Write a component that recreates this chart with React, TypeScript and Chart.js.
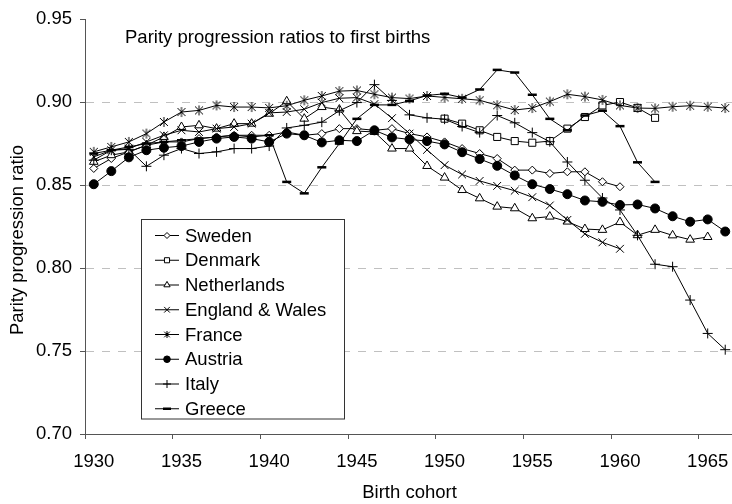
import React, { useEffect, useRef } from 'react';
import { Chart, registerables } from 'chart.js';
import { drawPoint } from 'chart.js/helpers';

Chart.register(...registerables);

const years = [
  '1930', '1931', '1932', '1933', '1934', '1935', '1936', '1937', '1938', '1939',
  '1940', '1941', '1942', '1943', '1944', '1945', '1946', '1947', '1948', '1949',
  '1950', '1951', '1952', '1953', '1954', '1955', '1956', '1957', '1958', '1959',
  '1960', '1961', '1962', '1963', '1964', '1965', '1966',
];

const seriesNames = ['Sweden', 'Denmark', 'Netherlands', 'England & Wales', 'France', 'Austria', 'Italy', 'Greece'];

const sweden = [
  0.860, 0.866, 0.870, 0.874, 0.876, 0.876, 0.878, 0.879, 0.880, 0.880, 0.880,
  0.882, 0.880, 0.881, 0.884, 0.884, 0.883, 0.884, 0.881, 0.879, 0.876,
  0.872, 0.869, 0.866, 0.859, 0.859, 0.857, 0.858, 0.858, 0.852, 0.849,
  null, null, null, null, null, null,
];

const denmark = [
  null, null, null, null, null, null, null, null, null, null,
  null, null, null, null, null, null, null, null, null, null,
  0.890, 0.887, 0.883, 0.879, 0.8765, 0.8755, 0.8765, 0.884, 0.891, 0.898,
  0.900, 0.8965, 0.8905, null, null, null, null,
];

const netherlands = [
  0.864, 0.868, 0.870, 0.874, 0.879, 0.885, 0.886, 0.884, 0.887, 0.887, 0.893,
  0.9005, 0.890, 0.897, 0.8955, 0.8825, 0.882, 0.872, 0.872, 0.8615, 0.8545,
  0.847, 0.842, 0.837, 0.836, 0.830, 0.831, 0.828, 0.8235, 0.823, 0.8277,
  0.8198, 0.823, 0.8197, 0.8171, 0.8187, null,
];

const englandWales = [
  0.867, 0.871, 0.872, 0.876, 0.880, 0.883, 0.882, 0.884, 0.885, 0.887, 0.8935,
  0.894, 0.8957, 0.8997, 0.9023, 0.9027, 0.8988, 0.8903, 0.881, 0.8712, 0.862,
  0.8564, 0.8525, 0.8495, 0.8466, 0.8427, 0.8377, 0.829, 0.8206, 0.8155, 0.8116,
  null, null, null, null, null, null,
];

const france = [
  0.870, 0.873, 0.876, 0.881, 0.888, 0.894, 0.895, 0.898, 0.897, 0.897, 0.8965,
  0.8978, 0.9011, 0.9037, 0.9066, 0.907, 0.9047, 0.9027, 0.9021, 0.9037, 0.9028,
  0.902, 0.9011, 0.8981, 0.8952, 0.8964, 0.9003, 0.9047, 0.9033, 0.9013, 0.898,
  0.8964, 0.8962, 0.8972, 0.8978, 0.8972, 0.8964,
];

const austria = [
  0.8505, 0.8584, 0.8667, 0.871, 0.8725, 0.8735, 0.876, 0.878, 0.879, 0.878, 0.876,
  0.881, 0.880, 0.8757, 0.877, 0.8765, 0.883, 0.8787, 0.8775, 0.8765, 0.8745,
  0.8698, 0.8657, 0.8616, 0.8558, 0.8505, 0.8476, 0.8445, 0.8407, 0.8399, 0.838,
  0.8383, 0.8359, 0.8312, 0.8279, 0.8293, 0.822,
];

const italy = [
  0.865, 0.871, 0.8715, 0.8613, 0.868, 0.872, 0.869, 0.870, 0.872, 0.872, 0.8735,
  0.8844, 0.886, 0.8879, 0.8948, 0.8997, 0.9105, 0.901, 0.8923, 0.8905, 0.8897,
  0.8853, 0.8816, 0.8919, 0.8875, 0.8816, 0.8761, 0.8639, 0.8529, 0.8422, 0.835,
  0.8197, 0.8023, 0.8008, 0.7807, 0.7606, 0.7508,
];

const greece = [
  0.869, 0.871, 0.873, 0.875, 0.876, 0.877, 0.878, 0.879, 0.880, 0.879, 0.880,
  0.8519, 0.845, 0.8607, 0.875, 0.8899, 0.8983, 0.8983, 0.9007, 0.904, 0.905,
  0.9027, 0.9076, 0.9194, 0.9178, 0.9044, 0.8899, 0.883, 0.8919, 0.8948, 0.8855,
  0.8637, 0.8519, null, null, null, null,
];

const yMin = 0.70;
const yMax = 0.95;
const yStep = 0.05;
const xLabelEvery = 5;

const chartTitle = 'Parity progression ratios to first births';
const xTitle = 'Birth cohort';
const yTitle = 'Parity progression ratio';

const FONT = '"Liberation Sans", Arial, Helvetica, sans-serif';
const FS = 18.5;
const AXIS = '#555555';

function makeStar(size: number): HTMLCanvasElement {
  const c = document.createElement('canvas');
  c.width = size;
  c.height = size;
  const g = c.getContext('2d')!;
  g.strokeStyle = '#000';
  g.lineWidth = 1;
  const m = size / 2;
  const d = size / 2 - 1;
  g.beginPath();
  g.moveTo(m - d * 0.8, m - d * 0.8);
  g.lineTo(m + d * 0.8, m + d * 0.8);
  g.moveTo(m + d * 0.8, m - d * 0.8);
  g.lineTo(m - d * 0.8, m + d * 0.8);
  g.moveTo(m, m - d);
  g.lineTo(m, m + d);
  g.stroke();
  return c;
}

export default function App() {
  const ref = useRef<HTMLCanvasElement>(null);

  useEffect(() => {
    const canvas = ref.current!;
    const star = makeStar(12);
    const starSmall = makeStar(9);
    const seriesData = [sweden, denmark, netherlands, englandWales, france, austria, italy, greece];
    const styles: any[] = [
      { ps: 'rectRot', r: 4, bg: '#fff', bw: 1, lps: 'rectRot', lr: 3 },
      { ps: 'rect', r: 5, bg: '#fff', bw: 1, lps: 'rect', lr: 3.6 },
      { ps: 'triangle', r: 5, bg: '#fff', bw: 1, lps: 'triangle', lr: 3.6 },
      { ps: 'crossRot', r: 5.5, bg: '#fff', bw: 1, lps: 'crossRot', lr: 4 },
      { ps: star, r: 5, bg: '#fff', bw: 1, lps: starSmall, lr: 4 },
      { ps: 'circle', r: 4.5, bg: '#000', bw: 1, lps: 'circle', lr: 3.3 },
      { ps: 'cross', r: 5, bg: '#fff', bw: 1, lps: 'cross', lr: 4 },
      { ps: 'line', r: 4.5, bg: '#000', bw: 2.5, lps: 'line', lr: 4 },
    ];

    const datasets = seriesNames.map((name, i) => ({
      label: name,
      data: seriesData[i],
      borderColor: '#000',
      borderWidth: 1,
      pointStyle: styles[i].ps,
      pointRadius: styles[i].r,
      pointBackgroundColor: styles[i].bg,
      pointBorderColor: '#000',
      pointBorderWidth: styles[i].bw,
      fill: false,
      tension: 0,
      spanGaps: false,
      order: 10 - i,
    }));

    const overlay = {
      id: 'overlay',
      afterDraw(chart: any) {
        const ctx: CanvasRenderingContext2D = chart.ctx;
        const area = chart.chartArea;
        ctx.save();
        ctx.fillStyle = '#000';
        // chart title
        ctx.font = `${FS}px ${FONT}`;
        ctx.textAlign = 'left';
        ctx.textBaseline = 'alphabetic';
        ctx.fillText(chartTitle, 125, 43);
        // x title
        ctx.textAlign = 'center';
        ctx.fillText(xTitle, (area.left + area.right) / 2, 498);
        // y title
        ctx.save();
        ctx.translate(17.5, 240);
        ctx.rotate(-Math.PI / 2);
        ctx.textBaseline = 'middle';
        ctx.textAlign = 'center';
        ctx.fillText(yTitle, 0, 0);
        ctx.restore();

        // legend box
        const bx = 141.5, by = 219.5, bw = 203, bh = 199.5;
        ctx.fillStyle = '#fff';
        ctx.fillRect(bx, by, bw, bh);
        ctx.strokeStyle = '#333';
        ctx.lineWidth = 1;
        ctx.strokeRect(bx, by, bw, bh);
        const rowH = 24.75;
        const y0 = 235.5;
        seriesNames.forEach((name, i) => {
          const y = y0 + i * rowH;
          ctx.strokeStyle = '#000';
          ctx.lineWidth = 1;
          ctx.beginPath();
          ctx.moveTo(155, y);
          ctx.lineTo(179, y);
          ctx.stroke();
          ctx.fillStyle = styles[i].bg;
          ctx.strokeStyle = '#000';
          ctx.lineWidth = styles[i].bw;
          drawPoint(ctx, { pointStyle: styles[i].lps, radius: styles[i].lr, borderWidth: styles[i].bw, rotation: 0 } as any, 167, y);
          ctx.fillStyle = '#000';
          ctx.font = `${FS}px ${FONT}`;
          ctx.textAlign = 'left';
          ctx.textBaseline = 'middle';
          ctx.fillText(name, 185, y + 1);
        });
        ctx.restore();
      },
    };

    const chart = new Chart(canvas, {
      type: 'line',
      data: { labels: years, datasets: datasets as any },
      options: {
        responsive: false,
        animation: false,
        events: [],
        devicePixelRatio: 1,
        layout: { padding: { top: 11, left: 0, right: 2, bottom: 0 } },
        plugins: {
          legend: { display: false },
          title: { display: false },
          tooltip: { enabled: false },
        },
        scales: {
          x: {
            type: 'category',
            offset: true,
            grid: {
              offset: true,
              drawOnChartArea: false,
              drawTicks: true,
              tickLength: 5,
              lineWidth: 1,
              tickColor: (c: any) => (typeof c.index === 'number' && c.index % xLabelEvery === 0 ? AXIS : 'rgba(0,0,0,0)'),
            },
            border: { display: true, color: AXIS, width: 1 },
            ticks: {
              autoSkip: false,
              maxRotation: 0,
              minRotation: 0,
              padding: 12,
              color: '#000',
              font: { family: FONT, size: FS },
              callback: (_v: any, i: number) => (i % xLabelEvery === 0 ? years[i] : ''),
            },
            afterFit: (s: any) => { s.height = 70; },
          },
          y: {
            type: 'linear',
            min: yMin,
            max: yMax,
            grid: {
              drawTicks: true,
              tickLength: 5,
              lineWidth: 1,
              tickColor: AXIS,
              color: (c: any) => {
                const v = c.tick ? c.tick.value : null;
                return v !== null && v > yMin + 0.001 && v < yMax - 0.001 ? '#c0c0c0' : 'rgba(0,0,0,0)';
              },
            },
            border: { display: true, color: AXIS, width: 1, dash: [8, 8] },
            ticks: {
              stepSize: yStep,
              padding: 8,
              color: '#000',
              font: { family: FONT, size: FS },
              callback: (v: any) => Number(v).toFixed(2),
            },
            afterFit: (s: any) => { s.width = 85; },
          },
        },
      },
      plugins: [overlay],
    });
    return () => chart.destroy();
  }, []);

  return (
    <div style={{ position: 'fixed', left: 0, top: 0, width: 732, height: 504, overflow: 'hidden', background: '#fff' }}>
      <canvas ref={ref} width={741} height={504} style={{ display: 'block', width: 741, height: 504 }} />
    </div>
  );
}
